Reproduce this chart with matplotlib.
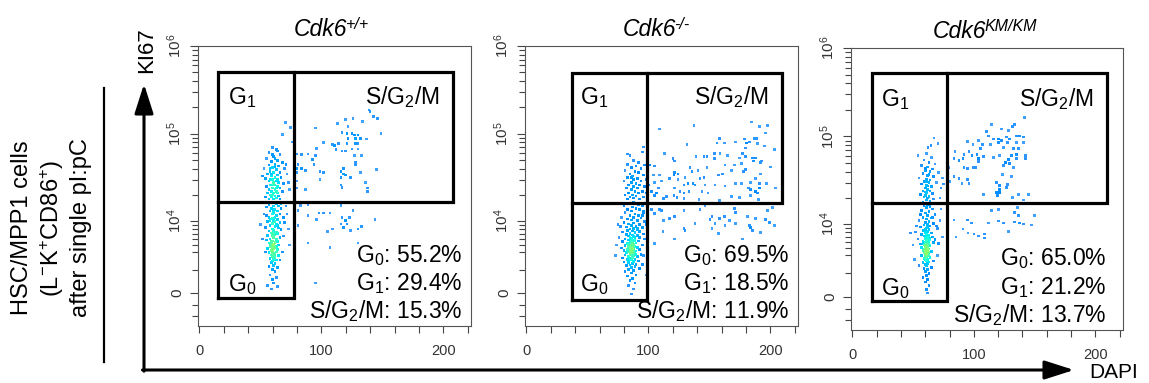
import numpy as np
import matplotlib
matplotlib.use('Agg')
import matplotlib.pyplot as plt

plt.rcParams['font.family'] = ['Liberation Sans', 'DejaVu Sans']
plt.rcParams['mathtext.fontset'] = 'custom'
plt.rcParams['mathtext.rm'] = 'Liberation Sans'
plt.rcParams['mathtext.it'] = 'Liberation Sans:italic'
plt.rcParams['mathtext.bf'] = 'Liberation Sans:bold'

genotypes = ['+/+', '-/-', 'KM/KM']
g0_pct = [55.2, 69.5, 65.0]
g1_pct = [29.4, 18.5, 21.2]
sg2m_pct = [15.3, 11.9, 13.7]

# gates: DAPI (left, split, right) and KI67/1000 (bottom, split, top)
gate_dapi = [(15.6, 77.3, 208.0), (37.2, 98.6, 209.6), (15.9, 77.9, 209.9)]
gate_ki67 = [(-0.45, 16.6, 507), (-0.55, 16.2, 490), (-0.35, 17.5, 521)]

# events: (DAPI, KI67 / 1000)
wt_events = [
    # G1 column
    (60,70),(63,66),(57,61),(66,58),(61,55),(55,52),(64,50),(59,48),(68,47),(62,45),
    (57,44),(65,43),(60,41),(53,40),(70,40),(63,39),(58,37),(61,36),(66,36),(56,35),
    (64,34),(59,33),(62,32),(67,32),(54,31),(60,30),(63,29),(57,29),(65,28),(61,27),
    (69,27),(58,26),(62,26),(55,25),(64,25),(60,24),(66,24),(57,23),(62,23),(59,22),
    (63,22),(68,22),(56,21),(61,21),(64,21),(58,20),(60,20),(62,19.5),(65,19.5),(54,19),
    (59,19),(63,18.5),(61,18),(57,18),(66,18),(72,35),(73,28),(71,45),(52,33),(74,23),
    (60,58),(62,52),(58,30),(61,28),(63,24),(60,26),(59,35),(64,30),(62,42),(58,40),
    (70.5,135),(74.6,118),(68,98),(64,64),(76,81),
    # G0 column
    (60,16.5),(63,16),(57,15.5),(65,15),(61,15),(55,14.5),(59,14),(67,14),(62,13.5),(64,13),
    (58,13),(61,12.5),(53,12),(66,12),(60,12),(63,11.5),(57,11),(69,11),(62,11),(59,10.5),
    (64,10.3),(61,10),(56,9.8),(66,9.5),(60,9.3),(63,9),(58,8.8),(62,8.5),(54,8.3),(65,8.2),
    (60,8),(67,7.8),(61,7.6),(57,7.5),(63,7.3),(59,7.1),(64,7),(62,6.8),(56,6.6),(60,6.5),
    (66,6.3),(61,6.2),(58,6),(63,5.9),(55,5.8),(60,5.6),(64,5.5),(62,5.4),(57,5.3),(59,5.2),
    (61,5.1),(65,5),(60,4.9),(63,4.8),(58,4.7),(62,4.6),(56,4.5),(61,4.4),(64,4.3),(59,4.2),
    (60,4.1),(63,4.0),(57,3.9),(62,3.8),(61,3.7),(59,3.6),(65,3.5),(60,3.4),(62,3.3),(58,3.2),
    (61,3.1),(63,3.0),(60,2.9),(59,2.7),(62,2.6),(61,2.4),(57,2.3),(64,2.2),(60,2.0),(62,1.8),
    (58,1.5),(63,1.3),(60,1.1),(61,0.8),(56,0.6),(59,0.3),(64,0.5),(72,12),(73,8),(74,5),
    (71,15),(52,6),(50,9),(68,4),(69,6.5),(70,9.5),(55,11.5),(66,3),(67,16),(54,4),
    (58,10),(61,13.5),(62,9.8),(60,7),(63,6),(61,4.6),(60,3.8),(59,5.5),(62,7.2),(64,8.8),
    (58,5),(60,10.8),(61,6.8),(62,3.6),(60,4.5),
    # S/G2/M
    (140,181),(143,158),(146,150),(126,150),(120,146),(134,139),(113,132),(122,122),(95,116),(117,104),
    (121,101),(125,101),(127,97),(130,97),(149,101),(102,80),(109,76),(111,74),(114,78),(122,89),
    (128,89),(132,89),(137,87),(121,78),(128,78),(130,78),(96,68),(112,66),(117,64),(120,64),
    (125,67),(130,67),(127,57),(133,57),(84,58),(89,59),(95,57),(93,51),(80,59),(81,45),
    (80,40),(84,40),(87,38),(94,45),(128,47),(128,45),(118,40),(145,39),(99,37),(102,36),
    (116,37),(118,35),(120,34),(132,36),(99,30),(116,32),(124,32),(136,28),(116,26),(117,24.5),
    (138,24),(138,22),(80,24),(87,23),(80,29),(80,36),(139,186),
    # below the S/G2/M gate
    (83,15.1),(89,15.5),(81,13.2),(98,12.4),(102,12.4),(107,12.4),(89,11.5),(116,15.1),(126,13.2),(96,10.3),
    (117,10.9),(120,10.0),(123,10.9),(116,9.2),(121,9.2),(118,8.3),(109,8.0),(105,7.4),(133,8.5),(130,8.0),
    (124,7.6),(144,10.3),(81,8.8),(89,5.3),(107,4.6),(130,5.3),(95,0.8),
]

ko_events = [
    # G1 column
    (85,57),(95,62),(88,50),(92,47),(83,45),(90,43),(86,41),(94,40),(81,38),(89,37),
    (92,36),(85,35),(96,34),(87,33),(83,32),(91,31),(88,30),(94,29),(80,29),(86,28),
    (90,27),(84,26),(93,26),(88,25),(97,25),(82,24),(91,24),(86,23),(89,22),(95,22),
    (84,21),(92,21),(87,20),(81,20),(90,19.5),(96,19),(85,19),(88,18.5),(93,18),(83,18),
    (98,30),(98,21),(99,36),(97,44),(86,32),(83,59),(96,71),
    # G0 column
    (88,16.5),(84,16),(92,15.5),(80,15),(95,15),(87,14.5),(90,14),(83,13.5),(93,13.5),(86,13),
    (96,12.5),(81,12.5),(89,12),(85,11.5),(92,11.5),(78,11),(88,11),(94,10.8),(83,10.5),(86,10.2),
    (91,10),(97,9.8),(80,9.6),(88,9.4),(84,9.2),(93,9),(86,8.8),(90,8.6),(77,8.5),(82,8.4),
    (95,8.3),(88,8.1),(85,8),(91,7.8),(83,7.6),(87,7.5),(93,7.4),(79,7.3),(89,7.2),(85,7.0),
    (96,6.9),(82,6.8),(87,6.7),(91,6.6),(84,6.5),(88,6.4),(76,6.3),(93,6.2),(86,6.1),(81,6.0),
    (89,5.9),(84,5.8),(87,5.7),(92,5.6),(79,5.5),(85,5.4),(90,5.3),(83,5.2),(88,5.1),(95,5.0),
    (86,4.95),(81,4.9),(89,4.8),(84,4.75),(87,4.7),(91,4.6),(78,4.55),(85,4.5),(83,4.4),(88,4.35),
    (93,4.3),(86,4.2),(80,4.15),(90,4.1),(84,4.0),(87,3.95),(82,3.9),(89,3.85),(85,3.8),(94,3.7),
    (86,3.65),(81,3.6),(88,3.5),(84,3.45),(91,3.4),(87,3.3),(79,3.25),(85,3.2),(89,3.1),(83,3.05),
    (86,3.0),(92,2.9),(88,2.85),(80,2.8),(84,2.7),(87,2.6),(90,2.5),(85,2.45),(82,2.4),(89,2.3),
    (86,2.2),(93,2.1),(84,2.0),(88,1.9),(81,1.8),(86,1.7),(90,1.5),(83,1.4),(87,1.2),(85,1.0),
    (89,0.8),(84,0.6),(88,0.3),(86,-0.1),(96,3.5),(97,6),(98,9),(74,5),(75,9),(73,3.5),
    (96,13),(95,2.5),(98,1.5),(95,11.5),(91,8.2),(89,6.3),(87,5.2),(86,4.6),(88,4.0),(85,3.6),
    (87,3.4),(84,5.0),(86,5.5),(88,4.7),(85,6.2),(90,3.7),(83,4.3),(86,3.9),(87,4.4),(89,5.6),
    (84,3.0),(85,4.25),(87,4.85),
    # S/G2/M
    (109.3,113),(137.4,125),(184.5,136),(191.2,122),(197.8,125),(196.1,102),(158.1,89),(178.8,87),(187,89),(188.7,89),
    (171.3,81),(156.4,79),(162.2,79),(180.4,79),(182.9,81),(189.5,77),(195.3,73),(131.7,75),(179.6,69),(177.1,60),
    (154,60),(158.9,60),(113.5,60),(164.7,57),(203.5,66),(139.1,55),(145.7,55),(148.2,55),(174.6,53),(179.6,55),
    (185.4,53),(187.9,53),(154,52),(120.1,52),(121.7,49),(176.3,46),(186.2,49),(192.8,49),(192,47),(170.5,44),
    (163,44),(200.2,42),(101.1,44),(105.2,43),(134.1,41),(135.8,37),(148.2,41),(140.7,38),(168,38),(160.6,35),
    (157.3,34),(178,37),(179.6,39),(192,35),(121.7,36),(120.9,34),(124.2,35),(104.4,34),(109.3,34),(145.7,32),
    (142.4,31),(130,32),(105.2,28),(111,29),(117.6,31),(124.2,30),(132.5,27),(136.6,27),(129.2,26),(138.3,26),
    (146.5,26),(154.8,26),(149,21),(163,25.5),(171.3,27),(176.3,27),(183.7,28),(187.9,31),(191.2,27),(197,27),
    (182.1,24),(183.7,23),(187.9,22),(191.2,24),(189.5,21),(204.3,24),(100.2,26),(102.7,22),(106.9,21),(108.5,24),
    (121.7,24),(125.9,22),(129.2,21),(120.9,19.6),(123.4,18.6),(129.2,18.1),(115.1,19.1),(112.6,18.1),(105.2,19.6),(133.3,22),
    (141.6,17.7),(158.1,17.2),(168,19.1),(174.6,18.6),(183.7,19.6),(190.3,17.7),(144,22),
    # below the S/G2/M gate
    (99.4,15.5),(102.7,13.6),(109.3,13.6),(111,13.2),(105.2,12.2),(142.4,13.6),(146.5,15.1),(170.5,13.9),(171.3,12.5),(152.3,11.2),
    (158.1,10.6),(162.2,11.2),(181.2,11.2),(187.9,10.6),(197.8,13.2),(201.9,14.3),(196.1,10.3),(117.6,10.6),(121.7,11.2),(138.3,9.25),
    (150.7,10.3),(154.8,9.25),(163,8.77),(171.3,9.25),(182.9,8.77),(185.4,7.63),(183.7,8.3),(203.5,8.77),(129.2,8.08),(112,7.43),
    (121.7,6.0),(157.3,7.0),(177.1,6.0),(192,7.2),(112.6,10),(130,7.63),(152.3,8.08),(166.4,10),(199.4,9.5),(105.2,5.2),
    (129.2,13.2),
]

km_events = [
    # G1 column
    (64.6,78.6),(70.4,82.7),(67.2,96.5),(54,60.5),(62.2,74.6),(61,64),(65,58),(59,54),(63,51),(68,49),
    (57,47),(62,45),(66,43),(60,41),(64,40),(71,39),(58,38),(62,36),(67,35),(55,34),
    (61,33),(64,32),(59,31),(63,30),(69,30),(57,29),(61,28),(65,27),(60,26),(62,25),
    (74,34),(58,24),(64,24),(61,23),(66,22.5),(56,22),(60,21.5),(63,21),(59,20.5),(62,20),
    (67,19.5),(61,19),(64,18.5),(58,18),(73,26),(72,20),(75,29),(60,44),(63,37),(61,31),
    (62,27.5),(60,23.5),
    # G0 column
    (62,17),(59,16.5),(64,16),(61,15.5),(66,15),(57,14.5),(63,14),(60,13.5),(68,13),(62,12.5),
    (58,12),(65,11.8),(61,11.5),(55,11),(63,10.8),(60,10.5),(67,10.2),(62,10),(59,9.7),(64,9.5),
    (56,9.2),(61,9),(70,8.8),(63,8.6),(58,8.4),(62,8.2),(52,8),(60,7.9),(65,7.8),(61,7.6),
    (57,7.5),(63,7.3),(59,7.2),(48,7.8),(66,7),(62,6.9),(60,6.7),(54,6.6),(64,6.5),(61,6.3),
    (58,6.2),(63,6.1),(60,6.0),(67,5.9),(62,5.8),(56,5.7),(61,5.6),(59,5.5),(64,5.4),(60,5.3),
    (62,5.2),(57,5.1),(61,5.0),(63,4.9),(60,4.85),(62,4.8),(58,4.7),(61,4.6),(65,4.55),(60,4.5),
    (62,4.4),(59,4.3),(61,4.2),(63,4.1),(60,4.0),(57,3.95),(62,3.9),(61,3.8),(64,3.7),(59,3.6),
    (62,3.5),(60,3.4),(61,3.3),(63,3.2),(58,3.1),(62,3.0),(60,2.9),(61,2.75),(65,2.6),(59,2.5),
    (62,2.4),(60,2.2),(63,2.0),(61,1.8),(58,1.6),(62,1.4),(60,1.2),(63,0.9),(61,0.6),(62,0.3),
    (50,5.5),(53,9.5),(72,11),(74,7),(70,4),(68,6.5),(69,9.5),(51,3.5),(55,2.8),(67,3.3),
    (66,12),(56,13),(73,15),(71,5.8),(62,4.65),(61,4.15),(60,3.65),(62,5.05),(61,5.45),(63,4.45),
    (60,4.75),(61,3.55),(62,6.4),(59,4.9),(63,5.6),(61,7.1),(60,8.6),(62,9.3),(64,6.8),(58,5.8),
    # S/G2/M
    (141.6,163),(114.3,135.6),(110.2,113),(131.7,128.6),(111.8,101.6),(122.6,122),(128.4,116),(135,101.6),(137.5,101.6),(140.8,99),
    (126.7,99),(129.2,94),(115.9,94),(120.1,94),(122.6,89.3),(103.6,89.3),(94.5,87),(135,84.8),(140.8,84.8),(127.5,84.8),
    (120.1,84.8),(113.5,80.6),(99.4,80.6),(106.9,80.6),(124.2,74.6),(132.5,72.6),(136.6,72.6),(105.2,72.6),(96.1,67.3),(84.5,67.3),
    (92,62.1),(102.7,62.1),(98.6,60.5),(107.7,59),(115.9,57.4),(120.9,60.5),(130.8,60.5),(135,62.1),(142.4,60.5),(142.4,55.9),
    (83.7,55.9),(87.9,53.1),(91.2,55.9),(103.6,55.9),(103.6,51.8),(125.9,50.4),(128.4,54.5),(135,55.9),(129.2,49.1),(92,44.3),
    (94.5,43.1),(99.4,44.3),(101.1,44.3),(79.6,44.3),(132.5,44.3),(124.2,46.7),(123.4,36.9),(130.8,35),(83.7,35),(87.9,33.2),
    (94.5,32.4),(90.3,29.1),(96.1,29.1),(118.4,29.9),(120.9,27.6),(127.5,28.4),(126.7,26.2),(120.9,24.9),(118.4,23),(120.9,23),
    (119.3,21.3),(107.7,21.8),(131.7,20.2),(136.6,21.8),(144.9,21.8),(140.8,19.1),(80.4,30.7),(133.3,135.6),
    # below the S/G2/M gate
    (114.3,14.3),(120.1,14.7),(135.8,15.5),(133.3,13.6),(149.9,12.5),(83.7,11.2),(94.5,11.2),(97.8,10.3),(111.8,10.3),(124.2,10.3),
    (133.3,10.6),(137.5,10.3),(140.8,10),(147.4,9.75),(91.2,8.77),(95.3,7.85),(103.6,7.2),(108.5,7.63),(108.5,6.8),(128.4,8.08),
    (85.4,7.0),(100.2,7.63),(136.6,12.5),(120.1,10.9),
]

all_events = [wt_events, ko_events, km_events]

C = 3100.0


def fwd(v):
    return np.arcsinh(np.asarray(v, dtype=float) / C)


def inv(u):
    return C * np.sinh(u)


W, H = 1149, 383
fig = plt.figure(figsize=(W / 100, H / 100), dpi=100)

# overlay in pixel coords for arrows and side labels
ov = fig.add_axes([0, 0, 1, 1], zorder=0)
ov.set_xlim(0, W)
ov.set_ylim(H, 0)
ov.axis('off')

# panel boxes in pixels: left, top, width, height
panel_px = [(198, 46, 273, 280), (525, 46, 273, 280), (851, 48, 272, 282)]


def density_colors(ax, xs, ys):
    pts = ax.transData.transform(np.column_stack([xs, ys]))
    d = np.hypot(pts[:, None, 0] - pts[None, :, 0], pts[:, None, 1] - pts[None, :, 1])
    counts = (d < 5.5).sum(axis=1) - 1
    level = counts / max(counts.max(), 1)
    cols = plt.cm.jet(0.25 + 0.27 * level ** 1.4)
    # isolated events look paler
    pale = np.clip(1 - counts / 3.0, 0, 1)[:, None] * 0.25
    cols[:, :3] = cols[:, :3] * (1 - pale) + pale
    return cols, level


label_x = [0.11, 0.20, 0.11]
sg_right = [0.886, 0.894, 0.893]
stat_right = [0.97, 0.967, 0.94]
title_shift = [0.05, 0.045, 0.1]

for i, (l, t, w, h) in enumerate(panel_px):
    ax = fig.add_axes([l / W, 1 - (t + h) / H, w / W, h / H], zorder=2)
    ax.set_yscale('function', functions=(fwd, inv))
    ax.set_xlim(-1.1, 222.7)
    ax.set_ylim(-3050, 1.0e6)

    ev = np.array(all_events[i], dtype=float)
    xs, ys = ev[:, 0], ev[:, 1] * 1000
    cols, lev = density_colors(ax, xs, ys)
    order = np.argsort(lev)
    ax.scatter(xs[order], ys[order], c=cols[order], s=3.6, marker='s',
               linewidths=0, zorder=2)

    gl, gm, gr = gate_dapi[i]
    gb, gs, gt = [v * 1000 for v in gate_ki67[i]]
    kw = dict(color='black', lw=2.3, zorder=3, solid_joinstyle='miter')
    ax.plot([gl, gm, gm, gl, gl], [gb, gb, gt, gt, gb], **kw)
    ax.plot([gm, gr, gr, gm], [gs, gs, gt, gt], **kw)
    ax.plot([gl, gm], [gs, gs], **kw)

    fs = 16.5
    ax.text(label_x[i], 0.793, r'G$_1$', transform=ax.transAxes, fontsize=fs,
            va='baseline', ha='left')
    ax.text(label_x[i], 0.125, r'G$_0$', transform=ax.transAxes, fontsize=fs,
            va='baseline', ha='left')
    ax.text(sg_right[i], 0.793, r'S/G$_2$/M', transform=ax.transAxes, fontsize=fs,
            va='baseline', ha='right')
    ax.text(stat_right[i], 0.229, r'G$_0$: %.1f%%' % g0_pct[i], transform=ax.transAxes,
            fontsize=fs, va='baseline', ha='right')
    ax.text(stat_right[i], 0.129, r'G$_1$: %.1f%%' % g1_pct[i], transform=ax.transAxes,
            fontsize=fs, va='baseline', ha='right')
    ax.text(stat_right[i], 0.029, r'S/G$_2$/M: %.1f%%' % sg2m_pct[i], transform=ax.transAxes,
            fontsize=fs, va='baseline', ha='right')

    title = ax.text(0.5 - title_shift[i], 1.036, 'Cdk6', transform=ax.transAxes,
                    fontsize=16.5, style='italic', ha='center', va='baseline')
    ax.annotate(genotypes[i], xy=(1, 1), xycoords=title, xytext=(-1.5, 0.5),
                textcoords='offset points', ha='left', va='top', fontsize=11.5,
                style='italic')

    ax.set_xticks([0, 100, 200])
    ax.set_xticklabels(['0', '100', '200'])
    ax.set_xticks([20, 40, 60, 80, 120, 140, 160, 180, 220], minor=True)
    ax.set_yticks([0, 1e4, 1e5, 1e6])
    ax.set_yticklabels(['0', r'$10^4$', r'$10^5$', r'$10^6$'], rotation=90, va='center')
    ymin = [-2000, -1000, 2000, 4000, 5000, 6000, 7000, 8000, 9000]
    ymin += [k * 1e4 for k in range(2, 10)] + [k * 1e5 for k in range(2, 10)]
    ax.set_yticks(ymin, minor=True)
    ax.tick_params(axis='both', which='both', direction='out', color='#444',
                   width=0.8, labelcolor='#333')
    ax.tick_params(axis='x', which='both', length=5, pad=8, labelsize=10.5)
    ax.tick_params(axis='y', which='major', length=6, pad=4, labelsize=11)
    ax.tick_params(axis='y', which='minor', length=4)
    for sp in ax.spines.values():
        sp.set_color('#555')
        sp.set_linewidth(0.8)

# axis arrows
ov.annotate('', xy=(144, 84), xytext=(144, 371.2),
            arrowprops=dict(arrowstyle='-|>,head_length=1.0,head_width=0.32', lw=2.2,
                            color='black', mutation_scale=18, shrinkA=0, shrinkB=0))
ov.annotate('', xy=(1074, 370), xytext=(142.5, 370),
            arrowprops=dict(arrowstyle='-|>,head_length=1.0,head_width=0.32', lw=2.2,
                            color='black', mutation_scale=18, shrinkA=0, shrinkB=0))
ov.text(147, 50, 'KI67', rotation=90, ha='center', va='center', fontsize=16)
ov.text(1114, 373, 'DAPI', ha='center', va='center', fontsize=15)

# side label
ov.plot([104, 104], [88, 362], color='black', lw=1.6)
ov.text(22, 228, 'HSC/MPP1 cells', rotation=90, ha='center', va='center', fontsize=17)
ov.text(52, 228, r'(L$^{-}$K$^{+}$CD86$^{+}$)', rotation=90, ha='center', va='center', fontsize=17)
ov.text(81, 228, 'after single pI:pC', rotation=90, ha='center', va='center', fontsize=17)

fig.savefig('out.png', dpi=100)
